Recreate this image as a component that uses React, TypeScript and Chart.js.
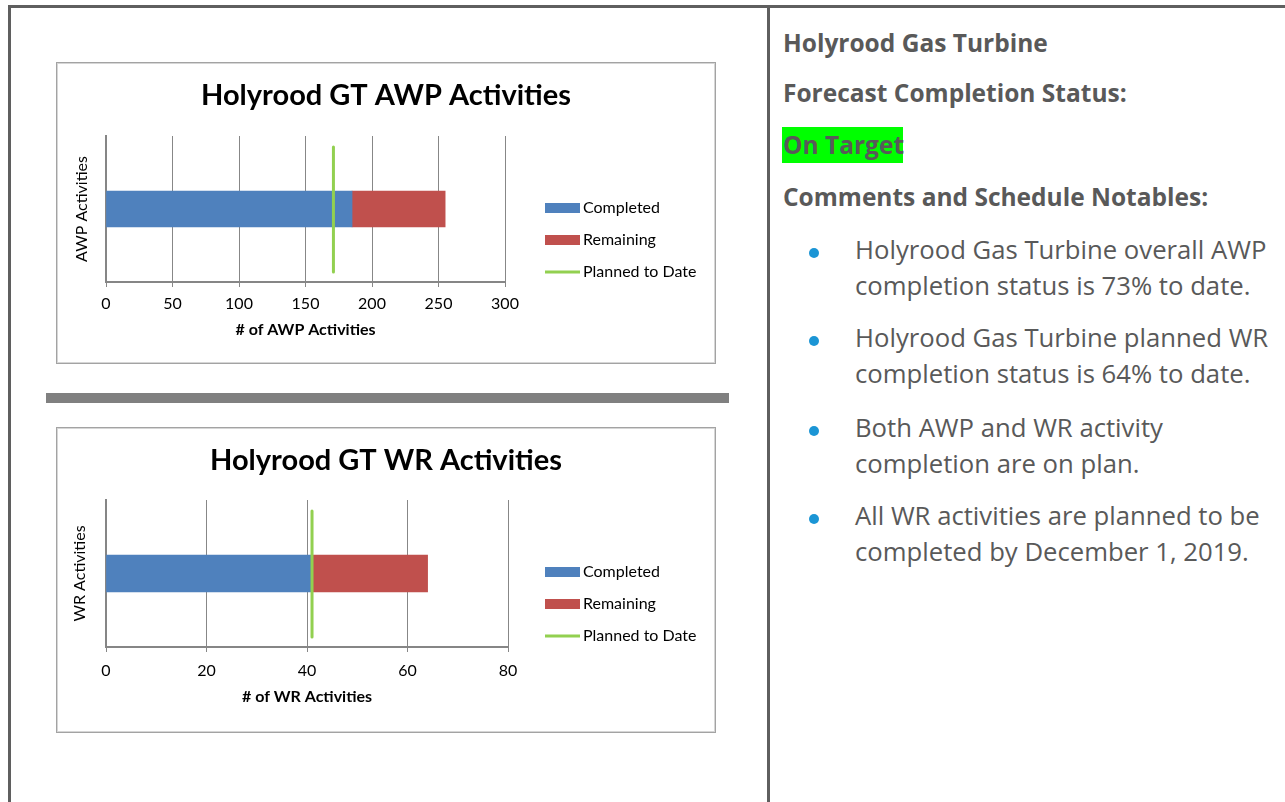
import React, { useEffect, useRef } from 'react';
import { Chart, registerables } from 'chart.js';

Chart.register(...registerables);

// ---------- Data ----------
const SERIES_LABELS = ['Completed', 'Remaining', 'Planned to Date'];
const SERIES_COLORS = ['#4f81bd', '#c0504d', '#92d050'];

const AWP_TITLE = 'Holyrood GT AWP Activities';
const AWP_CATEGORIES = ['AWP Activities'];
const AWP_COMPLETED = [185];
const AWP_REMAINING = [70];
const AWP_PLANNED = [171];
const AWP_TICKS = [0, 50, 100, 150, 200, 250, 300];
const AWP_X_TITLE = '# of AWP Activities';

const WR_TITLE = 'Holyrood GT WR Activities';
const WR_CATEGORIES = ['WR Activities'];
const WR_COMPLETED = [41];
const WR_REMAINING = [23];
const WR_PLANNED = [41];
const WR_TICKS = [0, 20, 40, 60, 80];
const WR_X_TITLE = '# of WR Activities';

const HEADINGS = ['Holyrood Gas Turbine', 'Forecast Completion Status:'];
const STATUS = 'On Target';
const COMMENTS_HEADING = 'Comments and Schedule Notables:';
const BULLETS = [
  ['Holyrood Gas Turbine overall AWP', 'completion status is 73% to date.'],
  ['Holyrood Gas Turbine planned WR', 'completion status is 64% to date.'],
  ['Both AWP and WR activity', 'completion are on plan.'],
  ['All WR activities are planned to be', 'completed by December 1, 2019.'],
];

const CHART_FONT = 'Lato';
const TEXT_FONT = '"Open Sans"';
const LABEL_SIZE = 16;

// ---------- Plugins ----------
const plannedLinePlugin = {
  id: 'plannedLine',
  afterDatasetsDraw(chart: any, _args: any, opts: any) {
    const { ctx, chartArea, scales } = chart;
    const x = scales.x.getPixelForValue(opts.value);
    ctx.save();
    ctx.strokeStyle = opts.color;
    ctx.lineWidth = 3;
    ctx.lineCap = 'round';
    ctx.beginPath();
    ctx.moveTo(x, chartArea.top + 11);
    ctx.lineTo(x, chartArea.bottom - 10);
    ctx.stroke();
    ctx.restore();
  },
};

const sideLegendPlugin = {
  id: 'sideLegend',
  afterDraw(chart: any, _args: any, opts: any) {
    const { ctx, chartArea } = chart;
    const x0 = chart.width - 169;
    let y = chartArea.top + 72;
    ctx.save();
    ctx.font = `${LABEL_SIZE}px ${CHART_FONT}`;
    ctx.textBaseline = 'middle';
    ctx.textAlign = 'left';
    for (const item of opts.items) {
      if (item.kind === 'line') {
        ctx.strokeStyle = item.color;
        ctx.lineWidth = 3;
        ctx.beginPath();
        ctx.moveTo(x0, y);
        ctx.lineTo(x0 + 35, y);
        ctx.stroke();
      } else {
        ctx.fillStyle = item.color;
        ctx.fillRect(x0, y - 5, 35, 10);
      }
      ctx.fillStyle = '#000';
      ctx.fillText(item.label, x0 + 38, y);
      y += 32;
    }
    ctx.restore();
  },
};

interface BarChartProps {
  width: number;
  height: number;
  title: string;
  categories: string[];
  completed: number[];
  remaining: number[];
  planned: number[];
  ticks: number[];
  xTitle: string;
  titlePadBottom: number;
  xAxisHeight: number;
  rightWidth: number;
  tickPad: number;
  xTitlePad: number;
  yTitlePad: number;
  barThickness: number;
}

function BarChart(p: BarChartProps) {
  const ref = useRef<HTMLCanvasElement | null>(null);
  useEffect(() => {
    if (!ref.current) return;
    const chart = new Chart(ref.current, {
      type: 'bar',
      data: {
        labels: p.categories,
        datasets: [
          {
            label: SERIES_LABELS[0],
            data: p.completed,
            backgroundColor: SERIES_COLORS[0],
            borderWidth: 0,
            barThickness: p.barThickness,
          },
          {
            label: SERIES_LABELS[1],
            data: p.remaining,
            backgroundColor: SERIES_COLORS[1],
            borderWidth: 0,
            barThickness: p.barThickness,
          },
        ],
      },
      plugins: [plannedLinePlugin, sideLegendPlugin],
      options: {
        responsive: false,
        animation: false,
        devicePixelRatio: 1,
        indexAxis: 'y',
        layout: { padding: 0 },
        events: [],
        scales: {
          x: {
            type: 'linear',
            stacked: true,
            min: p.ticks[0],
            max: p.ticks[p.ticks.length - 1],
            ticks: {
              stepSize: p.ticks[1] - p.ticks[0],
              color: '#000',
              font: { family: CHART_FONT, size: LABEL_SIZE },
              padding: p.tickPad,
              maxRotation: 0,
            },
            grid: {
              color: '#878787',
              lineWidth: 1,
              tickLength: 5,
              tickColor: '#878787',
            },
            border: { display: true, color: '#868686', width: 2 },
            title: {
              display: true,
              text: p.xTitle,
              color: '#000',
              font: { family: CHART_FONT, size: LABEL_SIZE, weight: 'bold' },
              padding: { top: 0, bottom: p.xTitlePad },
            },
            afterFit: (s: any) => {
              s.height = p.xAxisHeight;
            },
          },
          y: {
            type: 'category',
            stacked: true,
            position: 'left',
            ticks: { display: false },
            grid: { display: false },
            border: { display: true, color: '#868686', width: 2 },
            title: {
              display: true,
              text: p.categories[0],
              color: '#000',
              font: { family: CHART_FONT, size: LABEL_SIZE },
              padding: { top: p.yTitlePad, bottom: 0 },
            },
            afterFit: (s: any) => {
              s.width = 48;
            },
          },
          yRight: {
            type: 'linear',
            position: 'right',
            display: true,
            ticks: { display: false },
            grid: { display: false },
            border: { display: false },
            afterFit: (s: any) => {
              s.width = p.rightWidth;
            },
          },
        },
        plugins: {
          legend: { display: false },
          tooltip: { enabled: false },
          title: {
            display: true,
            text: p.title,
            color: '#000',
            font: { family: CHART_FONT, size: 29, weight: 'bold' },
            padding: { top: 14, bottom: p.titlePadBottom },
          },
          plannedLine: { value: p.planned[0], color: SERIES_COLORS[2] },
          sideLegend: {
            items: [
              { label: SERIES_LABELS[0], color: SERIES_COLORS[0], kind: 'box' },
              { label: SERIES_LABELS[1], color: SERIES_COLORS[1], kind: 'box' },
              { label: SERIES_LABELS[2], color: SERIES_COLORS[2], kind: 'line' },
            ],
          },
        } as any,
      } as any,
    });
    return () => chart.destroy();
  }, []);
  return (
    <canvas
      ref={ref}
      width={p.width}
      height={p.height}
      style={{ display: 'block', width: p.width, height: p.height }}
    />
  );
}

const BORDER = '#5f5f5f';
const TEXT = '#595959';

function abs(left: number, top: number, extra: React.CSSProperties = {}): React.CSSProperties {
  return { position: 'absolute', left, top, ...extra };
}

const boxStyle: React.CSSProperties = {
  border: '1px solid #a3a3a3',
  boxShadow: 'inset 0 0 0 1px #d6d6d6',
  background: '#fff',
  boxSizing: 'border-box',
  padding: 1,
};

const HEAD_FONT = `bold 24.5px/36px ${TEXT_FONT}`;
const BODY_FONT = `25.7px/36px ${TEXT_FONT}`;

export default function App() {
  const headingBaselines = [52, 102];
  const bulletBaselines = [260, 348, 438, 526];
  return (
    <div
      style={{
        position: 'absolute',
        left: 0,
        top: 0,
        width: 1285,
        height: 802,
        overflow: 'hidden',
        background: '#fff',
      }}
    >
      {/* table borders */}
      <div style={abs(8, 5, { width: 1277, height: 3, background: BORDER })} />
      <div style={abs(8, 5, { width: 3, height: 797, background: BORDER })} />
      <div style={abs(767, 5, { width: 3, height: 797, background: BORDER })} />

      {/* chart 1 */}
      <div style={abs(56, 62, { ...boxStyle, width: 660, height: 302 })}>
        <BarChart
          width={656}
          height={298}
          title={AWP_TITLE}
          categories={AWP_CATEGORIES}
          completed={AWP_COMPLETED}
          remaining={AWP_REMAINING}
          planned={AWP_PLANNED}
          ticks={AWP_TICKS}
          xTitle={AWP_X_TITLE}
          titlePadBottom={23.2}
          xAxisHeight={80}
          rightWidth={209}
          tickPad={7.4}
          xTitlePad={22.4}
          yTitlePad={14.4}
          barThickness={36}
        />
      </div>

      {/* separator */}
      <div style={abs(46, 393, { width: 683, height: 10, background: '#808080' })} />

      {/* chart 2 */}
      <div style={abs(56, 427, { ...boxStyle, width: 660, height: 306 })}>
        <BarChart
          width={656}
          height={302}
          title={WR_TITLE}
          categories={WR_CATEGORIES}
          completed={WR_COMPLETED}
          remaining={WR_REMAINING}
          planned={WR_PLANNED}
          ticks={WR_TICKS}
          xTitle={WR_X_TITLE}
          titlePadBottom={22.2}
          xAxisHeight={84}
          rightWidth={206}
          tickPad={9.4}
          xTitlePad={24.4}
          yTitlePad={12.4}
          barThickness={37}
        />
      </div>

      {/* right column */}
      {HEADINGS.map((h, i) => (
        <div
          key={h}
          style={abs(783, headingBaselines[i] - 27.5, {
            font: HEAD_FONT,
            color: TEXT,
            whiteSpace: 'nowrap',
          })}
        >
          {h}
        </div>
      ))}
      <div
        style={abs(782, 127, {
          height: 36,
          width: 121,
          background: '#00ff00',
          font: HEAD_FONT,
          color: TEXT,
          whiteSpace: 'nowrap',
          paddingLeft: 1,
          boxSizing: 'border-box',
        })}
      >
        {STATUS}
      </div>
      <div
        style={abs(783, 206 - 27.5, {
          font: HEAD_FONT,
          color: TEXT,
          whiteSpace: 'nowrap',
        })}
      >
        {COMMENTS_HEADING}
      </div>
      {BULLETS.map((lines, i) => (
        <React.Fragment key={i}>
          <div
            style={abs(808.5, bulletBaselines[i] - 12.5, {
              width: 10,
              height: 10,
              borderRadius: '50%',
              background: '#1b95d5',
            })}
          />
          <div
            style={abs(855, bulletBaselines[i] - 28, {
              font: BODY_FONT,
              color: TEXT,
              whiteSpace: 'nowrap',
            })}
          >
            {lines[0]}
            <br />
            {lines[1]}
          </div>
        </React.Fragment>
      ))}
    </div>
  );
}
